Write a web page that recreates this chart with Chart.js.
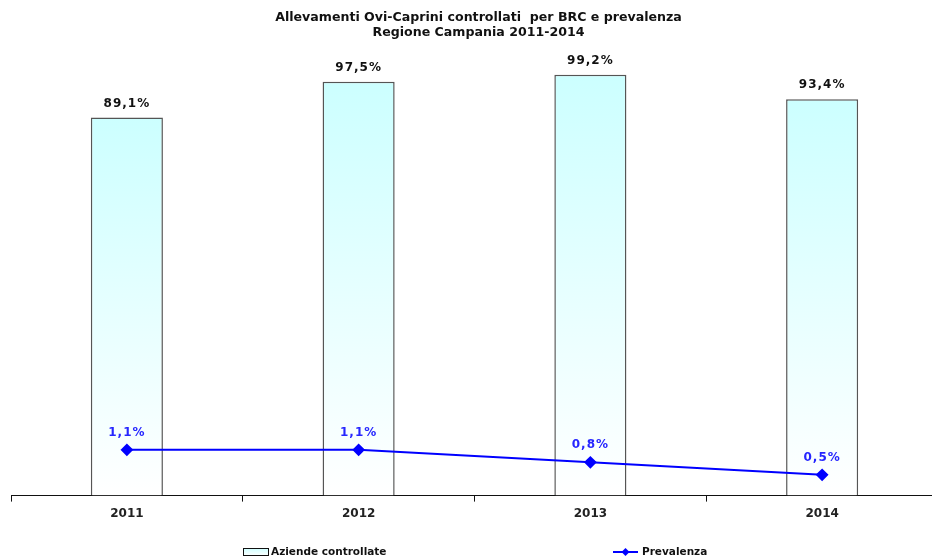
<!DOCTYPE html>
<html>
<head>
<meta charset="utf-8">
<script src="https://cdn.jsdelivr.net/npm/chart.js@4"></script>
<style>
  html, body { margin: 0; padding: 0; background: #fff; overflow: hidden; }
  #myChart { display: block; }
</style>
</head>
<body>
<canvas id="myChart" width="932" height="557"></canvas>
<script>
var anni = ['2011', '2012', '2013', '2014'];
var aziendeControllate = [89.1, 97.5, 99.2, 93.4];
var prevalenza = [1.1, 1.1, 0.8, 0.5];
var titolo = ['Allevamenti Ovi-Caprini controllati  per BRC e prevalenza', 'Regione Campania 2011-2014'];

var FONT = "'DejaVu Sans', Verdana, sans-serif";

function pct(v) {
  return v.toFixed(1).replace('.', ',') + '%';
}

// cyan-to-white fill for every single bar
function barFill(ctx) {
  var chart = ctx.chart;
  if (!chart.chartArea || ctx.raw === undefined) return '#ccffff';
  var y = chart.scales.y;
  var top = y.getPixelForValue(ctx.raw);
  var bottom = y.getPixelForValue(0);
  var g = chart.ctx.createLinearGradient(0, top, 0, bottom);
  g.addColorStop(0, '#ccffff');
  g.addColorStop(1, '#ffffff');
  return g;
}

// the category axis runs a few pixels past the right edge of the canvas,
// and the title is centred over that longer axis
var stretchX = {
  id: 'stretchX',
  afterLayout: function(chart) {
    var x = chart.scales.x;
    x.right = chart.width + 6;
    x.width = x.right - x.left;
    x.configure();
    if (chart.titleBlock) {
      chart.titleBlock.left += 7;
      chart.titleBlock.right += 7;
    }
  }
};

// values written above bars and points
var valueLabels = {
  id: 'valueLabels',
  afterDatasetsDraw: function(chart) {
    var c = chart.ctx;
    c.save();
    c.textAlign = 'center';
    c.textBaseline = 'middle';
    c.font = 'bold 12px ' + FONT;
    c.letterSpacing = '1px';
    chart.getDatasetMeta(0).data.forEach(function(el, i) {
      c.fillStyle = '#111';
      c.fillText(pct(aziendeControllate[i]), el.x, el.y - 14);
    });
    chart.getDatasetMeta(1).data.forEach(function(el, i) {
      c.fillStyle = '#2626ff';
      c.fillText(pct(prevalenza[i]), el.x, el.y - 17);
    });
    c.restore();
  }
};

// legend row at the foot of the chart
var footLegend = {
  id: 'footLegend',
  afterDraw: function(chart) {
    var c = chart.ctx;
    var y = 552;
    c.save();
    c.font = 'bold 10.5px ' + FONT;
    c.textBaseline = 'middle';
    // bar swatch
    var g = c.createLinearGradient(0, y - 4, 0, y + 4);
    g.addColorStop(0, '#ccffff');
    g.addColorStop(1, '#ffffff');
    c.fillStyle = g;
    c.fillRect(243.5, y - 3.5, 25, 7);
    c.strokeStyle = '#111';
    c.lineWidth = 1;
    c.strokeRect(243.5, y - 3.5, 25, 7);
    c.fillStyle = '#111';
    c.fillText('Aziende controllate', 271, y);
    // line swatch
    c.strokeStyle = '#0000ff';
    c.lineWidth = 2;
    c.beginPath();
    c.moveTo(613, y);
    c.lineTo(638, y);
    c.stroke();
    c.fillStyle = '#0000ff';
    c.beginPath();
    c.moveTo(625.5, y - 4);
    c.lineTo(629.5, y);
    c.lineTo(625.5, y + 4);
    c.lineTo(621.5, y);
    c.closePath();
    c.fill();
    c.fillStyle = '#111';
    c.fillText('Prevalenza', 642, y);
    c.restore();
  }
};

const data = {
  labels: anni,
  datasets: [
    {
      type: 'bar',
      label: 'Aziende controllate',
      data: aziendeControllate,
      backgroundColor: barFill,
      borderColor: '#555',
      borderWidth: 1.5,
      categoryPercentage: 1,
      barPercentage: 0.311,
      yAxisID: 'y',
      order: 2
    },
    {
      type: 'line',
      label: 'Prevalenza',
      data: prevalenza,
      borderColor: '#0000ff',
      backgroundColor: '#0000ff',
      borderWidth: 2,
      pointStyle: 'rectRot',
      pointRadius: 5,
      pointHoverRadius: 5,
      tension: 0,
      yAxisID: 'y1',
      order: 1
    }
  ]
};

const config = {
  type: 'bar',
  data,
  options: {
    responsive: false,
    animation: false,
    layout: { padding: { left: 11, right: 0, top: 0, bottom: 31 } },
    plugins: {
      legend: { display: false },
      tooltip: { enabled: false },
      title: {
        display: true,
        text: titolo,
        color: '#111',
        font: { family: FONT, size: 12.6, weight: 'bold', lineHeight: 1.2 },
        padding: { top: 10, bottom: 31 }
      }
    },
    scales: {
      x: {
        offset: true,
        grid: {
          offset: true,
          drawOnChartArea: false,
          tickLength: 6,
          color: '#111'
        },
        border: { color: '#111', width: 1 },
        ticks: {
          color: '#222',
          padding: 5,
          font: { family: FONT, size: 12, weight: 'bold' }
        }
      },
      y: { display: false, min: 0, max: 100 },
      y1: { display: false, min: 0, max: 10.2, position: 'right' }
    }
  },
  plugins: [stretchX, valueLabels, footLegend]
};

var myChart = new Chart(document.getElementById('myChart'), config);
</script>
</body>
</html>
